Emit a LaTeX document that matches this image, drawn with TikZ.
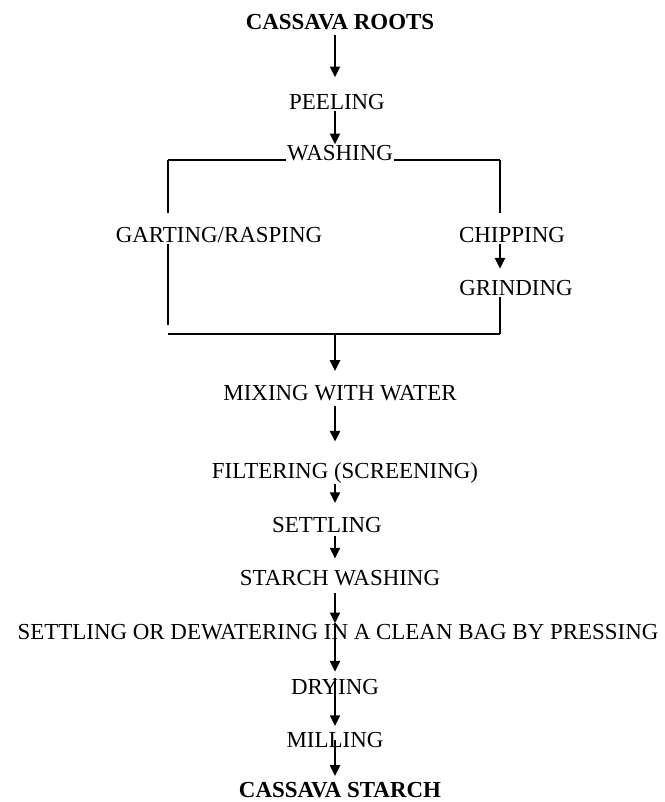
\documentclass[tikz,border=0pt]{standalone}
\usepackage{fontspec}
\setmainfont{Liberation Serif}
\usetikzlibrary{arrows.meta}

\begin{document}
\begin{tikzpicture}[
    x = 0.75pt,
    y = -0.75pt,
    line width = 1.5pt,
    >={Triangle[length=8pt,width=7.5pt]},
    stage/.style = {
      inner sep = 0pt,
      font = \fontsize{17.2}{20}\selectfont
    },
    title/.style = {
      stage,
      font = \fontsize{17.2}{20}\selectfont\bfseries
    },
    bar/.style = {
      line width = 2.2pt
    }
  ]
  \useasboundingbox (0,0) rectangle (664,802);

  \coordinate (ax) at (335,0);
  \coordinate (tl) at (168,160);
  \coordinate (tr) at (500,160);
  \coordinate (bl) at (168,334);
  \coordinate (br) at (500,334);

  \node[title] (roots)   at (340,22)  {CASSAVA ROOTS};
  \node[stage] (peel)    at (337,102) {PEELING};
  \node[stage] (wash)    at (340,153) {WASHING};
  \node[stage] (rasp)    at (219,235) {GARTING/RASPING};
  \node[stage] (chip)    at (512,235) {CHIPPING};
  \node[stage] (grind)   at (516,288) {GRINDING};
  \node[stage] (mix)     at (340,393) {MIXING WITH WATER};
  \node[stage] (filt)    at (345,473) {FILTERING (SCREENING)};
  \node[stage] (settle)  at (327,525) {SETTLING};
  \node[stage] (swash)   at (340,578) {STARCH WASHING};
  \node[stage] (dewater) at (338,632) {SETTLING OR DEWATERING IN A CLEAN BAG BY PRESSING};
  \node[stage] (dry)     at (335,687) {DRYING};
  \node[stage] (mill)    at (335,740) {MILLING};
  \node[title] (starch)  at (340,790) {CASSAVA STARCH};

  % split after washing
  \draw[bar] (wash.west |- tl) -- (tl);
  \draw[bar] (wash.east |- tr) -- (tr);
  \draw (tl) -- ([yshift=10pt]tl |- rasp.north);
  \draw (tl |- rasp.south) -- ([yshift=7pt]bl);
  \draw (tr) -- ([yshift=10pt]tr |- chip.north);
  \draw[->] (tr |- chip.south) -- ([yshift=8pt]tr |- grind.north);
  \draw (tr |- grind.south) -- (br);
  \draw[bar] (bl) -- (br);

  % main line
  \draw[->] ([yshift=-3pt]ax |- roots.south) -- ([yshift=12pt]ax |- peel.north);
  \draw[->] (ax |- peel.south) -- (ax |- wash.north);
  \draw[->] (ax |- bl) -- ([yshift=10pt]ax |- mix.north);
  \draw[->] ([yshift=-3pt]ax |- mix.south) -- ([yshift=15pt]ax |- filt.north);
  \draw[->] (ax |- filt.south) -- ([yshift=10pt]ax |- settle.north);
  \draw[->] ([yshift=-2pt]ax |- settle.south) -- ([yshift=8pt]ax |- swash.north);
  \draw[->] ([yshift=-5pt]ax |- swash.south) -- (ax |- dewater.north);
  \draw[->] (ax |- dewater.north) -- ([yshift=5pt]ax |- dry.north);
  \draw[->] (ax |- dry.north) -- ([yshift=4pt]ax |- mill.north);
  \draw[->] (ax |- mill.center) -- ([yshift=4pt]ax |- starch.north);
\end{tikzpicture}
\end{document}
